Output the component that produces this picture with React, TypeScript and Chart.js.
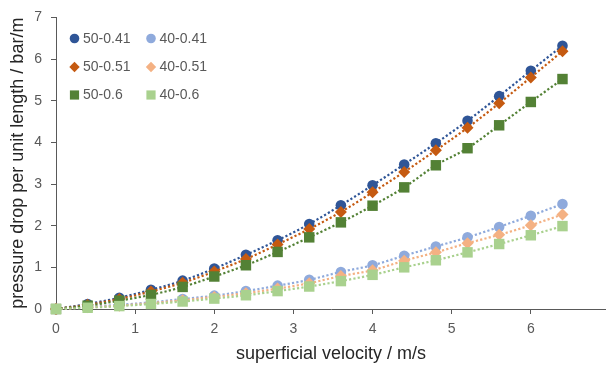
import React, { useEffect, useRef } from "react";
import { Chart, registerables } from "chart.js";

Chart.register(...registerables);

const velocity = [0, 0.4, 0.8, 1.2, 1.6, 2.0, 2.4, 2.8, 3.2, 3.6, 4.0, 4.4, 4.8, 5.2, 5.6, 6.0, 6.4];
const s50_041 = [0, 0.12, 0.27, 0.46, 0.68, 0.97, 1.3, 1.65, 2.04, 2.49, 2.97, 3.47, 3.98, 4.52, 5.11, 5.72, 6.32];
const s40_041 = [0, 0.05, 0.1, 0.16, 0.24, 0.32, 0.43, 0.56, 0.7, 0.89, 1.05, 1.28, 1.5, 1.72, 1.97, 2.24, 2.52];
const s50_051 = [0, 0.1, 0.24, 0.42, 0.63, 0.9, 1.2, 1.55, 1.92, 2.33, 2.8, 3.29, 3.81, 4.35, 4.94, 5.56, 6.19];
const s40_051 = [0, 0.04, 0.08, 0.14, 0.21, 0.29, 0.38, 0.49, 0.62, 0.79, 0.93, 1.16, 1.36, 1.58, 1.78, 2.01, 2.27];
const s50_06 = [0, 0.08, 0.2, 0.34, 0.53, 0.78, 1.05, 1.37, 1.72, 2.08, 2.48, 2.92, 3.45, 3.86, 4.41, 4.97, 5.52];
const s40_06 = [0, 0.03, 0.07, 0.12, 0.18, 0.25, 0.33, 0.43, 0.54, 0.67, 0.82, 1.0, 1.17, 1.36, 1.56, 1.77, 1.99];

const seriesLabels = ["50-0.41", "40-0.41", "50-0.51", "40-0.51", "50-0.6", "40-0.6"];
const seriesValues = [s50_041, s40_041, s50_051, s40_051, s50_06, s40_06];
const seriesColors = ["#2F5597", "#8FAADC", "#C55A11", "#F4B183", "#538135", "#A9D18E"];
const seriesShapes = ["circle", "circle", "rectRot", "rectRot", "rect", "rect"];
const seriesRadius = [5.3, 5.3, 6, 6, 7.4, 7.4];

const xTitle = "superficial velocity / m/s";
const yTitle = "pressure drop per unit length / bar/m";

const FONT = "'Liberation Sans', Arial, sans-serif";

const legendPlugin = {
  id: "customLegend",
  afterDraw(chart: any) {
    const ctx = chart.ctx;
    const colX = [74.5, 151];
    const rowY = [38.5, 67, 95];
    ctx.save();
    ctx.font = `14px ${FONT}`;
    ctx.textBaseline = "middle";
    ctx.textAlign = "left";
    chart.data.datasets.forEach((ds: any, i: number) => {
      const cx = colX[i % 2];
      const cy = rowY[Math.floor(i / 2)];
      ctx.fillStyle = ds.borderColor;
      const shape = ds.pointStyle;
      ctx.beginPath();
      if (shape === "circle") {
        ctx.arc(cx, cy, 4.8, 0, Math.PI * 2);
      } else if (shape === "rectRot") {
        const r = 5.2;
        ctx.moveTo(cx, cy - r);
        ctx.lineTo(cx + r, cy);
        ctx.lineTo(cx, cy + r);
        ctx.lineTo(cx - r, cy);
        ctx.closePath();
      } else {
        ctx.rect(cx - 4.6, cy - 4.6, 9.2, 9.2);
      }
      ctx.fill();
      ctx.fillStyle = "#595959";
      ctx.fillText(ds.label, cx + 8.5, cy + 0.5);
    });
    ctx.restore();
  },
};

export default function App() {
  const canvasRef = useRef<HTMLCanvasElement | null>(null);

  useEffect(() => {
    document.body.style.margin = "0";
    const canvas = canvasRef.current;
    if (!canvas) return;
    const datasets = seriesLabels.map((label, i) => ({
      label,
      data: velocity.map((v, k) => ({ x: v, y: seriesValues[i][k] })),
      borderColor: seriesColors[i],
      backgroundColor: seriesColors[i],
      pointBackgroundColor: seriesColors[i],
      pointBorderColor: seriesColors[i],
      pointBorderWidth: 0,
      pointStyle: seriesShapes[i],
      pointRadius: seriesRadius[i],
      borderWidth: 2.2,
      borderDash: [2.2, 2.2],
      cubicInterpolationMode: "monotone" as const,
      fill: false,
      clip: false as any,
      order: seriesLabels.length - i,
    }));

    const chart = new Chart(canvas, {
      type: "line",
      data: { datasets },
      options: {
        animation: false,
        responsive: true,
        maintainAspectRatio: false,
        layout: { autoPadding: false, padding: { top: 17, right: 0, left: 0, bottom: 0 } },
        plugins: {
          legend: { display: false },
          tooltip: { enabled: false },
        },
        scales: {
          x: {
            type: "linear",
            min: 0,
            max: 6.95,
            afterFit: (scale: any) => {
              scale.height = 56;
            },
            afterBuildTicks: (scale: any) => {
              scale.ticks = scale.ticks.filter((t: any) => t.value <= 6.0001);
            },
            ticks: {
              stepSize: 1,
              includeBounds: false,
              color: "#595959",
              font: { family: FONT, size: 14 },
              padding: 7,
              maxRotation: 0,
            },
            grid: {
              drawOnChartArea: false,
              drawTicks: true,
              tickLength: 5,
              color: "#595959",
            },
            border: { color: "#595959", width: 1 },
            title: {
              display: true,
              text: xTitle,
              color: "#262626",
              font: { family: FONT, size: 18 },
              padding: { top: 0, bottom: 0 },
            },
          },
          y: {
            type: "linear",
            min: 0,
            max: 7,
            afterFit: (scale: any) => {
              scale.width = 56;
            },
            ticks: {
              stepSize: 1,
              color: "#595959",
              font: { family: FONT, size: 14 },
              padding: 9,
            },
            grid: {
              drawOnChartArea: false,
              drawTicks: true,
              tickLength: 5,
              color: "#595959",
            },
            border: { color: "#595959", width: 1 },
            title: {
              display: true,
              text: yTitle,
              color: "#262626",
              font: { family: FONT, size: 18 },
              padding: { top: 7, bottom: 0 },
            },
          },
        },
      },
      plugins: [legendPlugin],
    });

    return () => {
      chart.destroy();
    };
  }, []);

  return (
    <div style={{ width: 606, height: 365, position: "relative", background: "#fff" }}>
      <canvas ref={canvasRef} />
    </div>
  );
}
